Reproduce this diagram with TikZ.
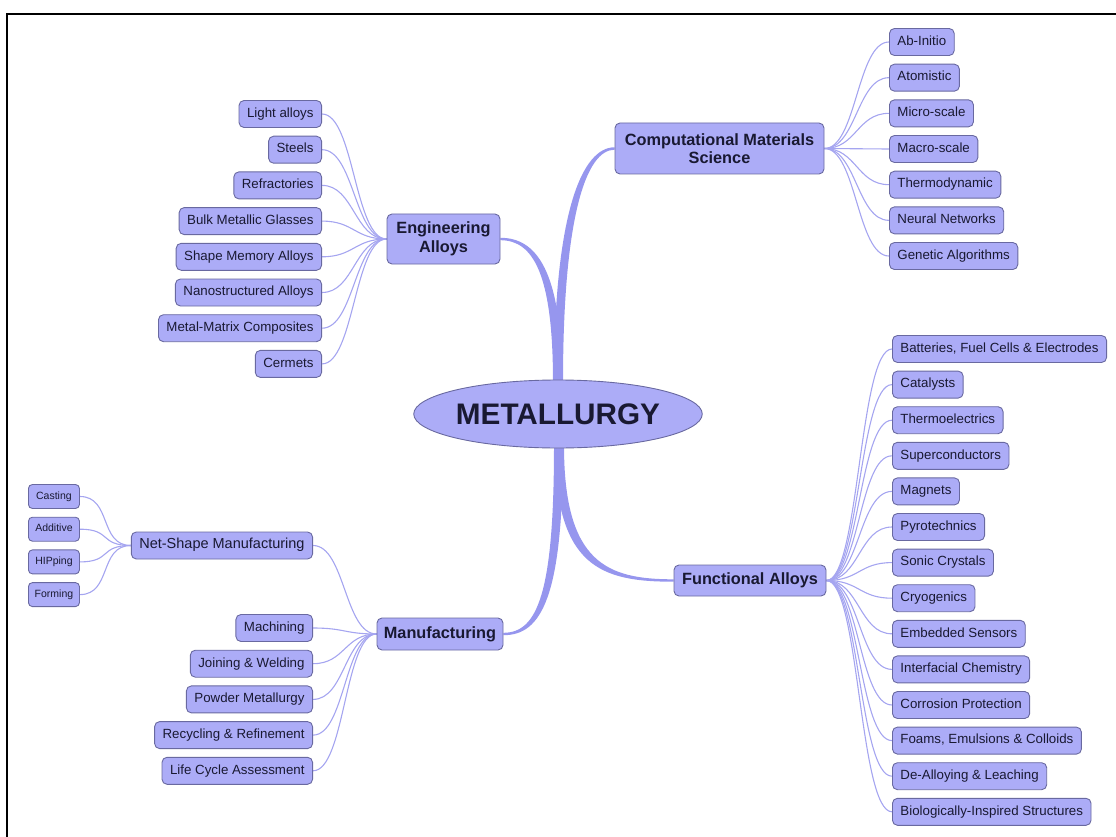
\documentclass[tikz,border=0pt]{standalone}
\usepackage{fontspec}
\setmainfont{Liberation Sans}
\usetikzlibrary{shapes.geometric,calc,backgrounds}
\definecolor{nodefill}{RGB}{172,172,247}
\definecolor{nodeedge}{RGB}{105,105,160}
\definecolor{linkcol}{RGB}{165,165,240}
\definecolor{branchcol}{RGB}{150,150,238}
\definecolor{txt}{RGB}{25,25,50}
\tikzset{
 box/.style={draw=nodeedge, fill=nodefill, rounded corners=5pt, line width=0.9pt, text=txt},
 leaf/.style={box, font=\fontsize{13.3}{15}\selectfont, inner xsep=8pt, inner ysep=7pt, text height=9.8pt, text depth=3.2pt},
 bigleaf/.style={leaf, font=\fontsize{14.5}{16}\selectfont},
 smallleaf/.style={box, font=\fontsize{10.5}{12}\selectfont, minimum width=51pt, inner xsep=3pt, inner ysep=0pt, minimum height=24pt, text height=7.6pt, text depth=2.2pt, rounded corners=4pt},
 topic/.style={box, font=\bfseries\fontsize{16.3}{18.5}\selectfont, align=center, inner xsep=3pt, inner ysep=0pt},
 rootnode/.style={ellipse, draw=nodeedge, fill=nodefill, line width=0.9pt, text=txt, font=\bfseries\fontsize{29.7}{34}\selectfont, minimum width=281pt, minimum height=68pt, inner sep=0pt},
 link/.style={draw=linkcol, line width=1.1pt},
 branch/.style={fill=branchcol},
}
\begin{document}
\begin{tikzpicture}[x=1pt,y=-1pt]
\useasboundingbox (0,0) rectangle (1116,837);
% frame
\draw[line width=1.6pt] (7,837) -- (7,14) -- (1116,14);

% root and topics
\node[rootnode] (root) at (558,414) {METALLURGY};
\node[topic, minimum width=113pt, minimum height=50pt] (ea) at (443.5,239) {Engineering\\Alloys};
\node[topic, minimum width=209pt, minimum height=51pt] (cms) at (719.5,148.5) {Computational Materials\\Science};
\node[topic, minimum width=152pt, minimum height=31pt] (fa) at (750,580.5) {Functional Alloys};
\node[topic, minimum width=126pt, minimum height=32pt] (manu) at (440,634) {Manufacturing};

% engineering alloys leaves
\foreach \t [count=\i] in {Light alloys,Steels,Refractories,Bulk Metallic Glasses,Shape Memory Alloys,Nanostructured Alloys,Metal-Matrix Composites,Cermets}
  \node[leaf, anchor=east] (ea\i) at (322,{114+35.7*(\i-1)}) {\t};

% computational leaves
\foreach \t [count=\i] in {Ab-Initio,Atomistic,Micro-scale,Macro-scale,Thermodynamic,Neural Networks,Genetic Algorithms}
  \node[leaf, anchor=west] (cms\i) at (889,{42+35.67*(\i-1)}) {\t};

% functional leaves
\foreach \t [count=\i] in {{Batteries, Fuel Cells \& Electrodes},Catalysts,Thermoelectrics,Superconductors,Magnets,Pyrotechnics,Sonic Crystals,Cryogenics,Embedded Sensors,Interfacial Chemistry,Corrosion Protection,{Foams, Emulsions \& Colloids},De-Alloying \& Leaching,Biologically-Inspired Structures}
  \node[leaf, anchor=west] (fa\i) at (892,{349+35.6*(\i-1)}) {\t};

% manufacturing leaves
\node[bigleaf, anchor=east] (ns) at (313,545.5) {Net-Shape Manufacturing};
\foreach \t [count=\i] in {Machining,Joining \& Welding,Powder Metallurgy,Recycling \& Refinement,Life Cycle Assessment}
  \node[leaf, anchor=east] (m\i) at (313,{628+35.7*(\i-1)}) {\t};

% net-shape leaves
\foreach \t [count=\i] in {Casting,Additive,HIPping,Forming}
  \node[smallleaf, anchor=west] (ns\i) at (28,{496.5+32.7*(\i-1)}) {\t};

\begin{pgfonlayer}{background}
% main tapered branches
\fill[branch] ($(root.north)+(-5,3)$) .. controls +(0,-108) and +(33,0) .. ($(ea.east)+(0,1.2)$)
  -- ($(ea.east)+(0,-1.2)$) .. controls +(36,0) and +(0,-112) .. ($(root.north)+(4,3)$) -- cycle;
\fill[branch] ($(root.north)+(-4,3)$) .. controls +(0,-172) and +(-32,0) .. ($(cms.west)+(0,-1.2)$)
  -- ($(cms.west)+(0,1.2)$) .. controls +(-28,0) and +(0,-168) .. ($(root.north)+(5,3)$) -- cycle;
\fill[branch] ($(root.south)+(-3,-3)$) .. controls +(0,122) and +(-72,0) .. ($(fa.west)+(0,1.2)$)
  -- ($(fa.west)+(0,-1.2)$) .. controls +(-66,0) and +(0,118) .. ($(root.south)+(6,-3)$) -- cycle;
\fill[branch] ($(root.south)+(-4,-3)$) .. controls +(0,148) and +(34,0) .. ($(manu.east)+(0,-1.2)$)
  -- ($(manu.east)+(0,1.2)$) .. controls +(38,0) and +(0,152) .. ($(root.south)+(5,-3)$) -- cycle;
% leaf links
\foreach \i in {1,...,8}
  \draw[link] (ea\i.east) .. controls +(32,0) and +(-32,0) .. (ea.west);
\foreach \i in {1,...,7}
  \draw[link] (cms.east) .. controls +(32,0) and +(-32,0) .. (cms\i.west);
\foreach \i in {1,...,14}
  \draw[link] (fa.east) .. controls +(33,0) and +(-33,0) .. (fa\i.west);
\foreach \i in {1,...,5}
  \draw[link] (m\i.east) .. controls +(32,0) and +(-32,0) .. (manu.west);
\draw[link] (ns.east) .. controls +(32,0) and +(-32,0) .. (manu.west);
\foreach \i in {1,...,4}
  \draw[link] (ns\i.east) .. controls +(32,0) and +(-32,0) .. (ns.west);
\end{pgfonlayer}
\end{tikzpicture}
\end{document}
